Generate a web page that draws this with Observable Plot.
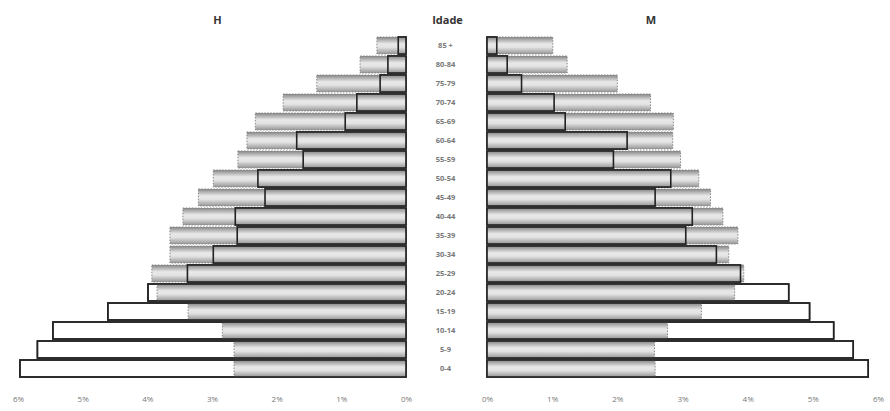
<!DOCTYPE html>
<html>
<head>
<meta charset="utf-8">
<script src="https://cdn.jsdelivr.net/npm/d3@7"></script>
<script src="https://cdn.jsdelivr.net/npm/@observablehq/plot@0.6"></script>
<style>
  body { margin: 0; background: white; }
  #wrap { display: flex; width: 890px; height: 411px; }
  svg { font-family: "Open Sans", "DejaVu Sans", sans-serif; }
</style>
</head>
<body>
<div id="wrap"></div>
<script>
// Age groups, bottom (0-4) to top (85 +)
const ages = ["0-4","5-9","10-14","15-19","20-24","25-29","30-34","35-39","40-44","45-49","50-54","55-59","60-64","65-69","70-74","75-79","80-84","85 +"];
// Outlined bars (white where not overlapped)
const menA   = [5.97,5.70,5.46,4.61,3.99,3.38,2.98,2.61,2.64,2.18,2.29,1.59,1.69,0.94,0.76,0.40,0.28,0.12];
const womenA = [5.85,5.62,5.32,4.95,4.63,3.89,3.52,3.05,3.15,2.58,2.82,1.94,2.15,1.20,1.03,0.53,0.31,0.15];
// Grey dotted bars
const menB   = [2.66,2.66,2.84,3.37,3.85,3.93,3.65,3.65,3.45,3.21,2.98,2.60,2.46,2.33,1.90,1.38,0.71,0.45];
const womenB = [2.58,2.57,2.77,3.29,3.80,3.94,3.71,3.85,3.62,3.43,3.25,2.97,2.85,2.86,2.51,2.00,1.23,1.01];
const ticks = [0,1,2,3,4,5,6];
const titles = {men: "H", women: "M", age: "Idade"};

const agesTopDown = ages.slice().reverse();
const rows = ages.map((age, i) => ({age, menA: menA[i], menB: menB[i], womenA: womenA[i], womenB: womenB[i]}));

function gradientDefs(id) {
  return () => {
    const ns = "http://www.w3.org/2000/svg";
    const defs = document.createElementNS(ns, "defs");
    const g = document.createElementNS(ns, "linearGradient");
    g.setAttribute("id", id);
    g.setAttribute("x1", "0"); g.setAttribute("y1", "0");
    g.setAttribute("x2", "0"); g.setAttribute("y2", "1");
    [["0", "#858585"], ["0.4", "#e8e8e8"], ["0.6", "#e4e4e4"], ["1", "#959595"]].forEach(([o, c]) => {
      const s = document.createElementNS(ns, "stop");
      s.setAttribute("offset", o); s.setAttribute("stop-color", c);
      g.appendChild(s);
    });
    defs.appendChild(g);
    return defs;
  };
}

function pyramidSide(keyA, keyB, opts) {
  const gid = "grad-" + keyA;
  return Plot.plot({
    width: opts.width,
    height: 411,
    marginLeft: opts.marginLeft,
    marginRight: opts.marginRight,
    marginTop: 30,
    marginBottom: 27,
    style: {fontFamily: "'Open Sans', 'DejaVu Sans', sans-serif", background: "white"},
    x: {domain: [0, 6], reverse: opts.reverse, axis: null},
    y: {domain: agesTopDown, padding: 0.08, axis: null},
    marks: [
      gradientDefs(gid),
      Plot.barX(rows, {y: "age", x: keyA, fill: "white", stroke: "#222", strokeWidth: 1.5}),
      Plot.barX(rows, {y: "age", x: keyB, fill: `url(#${gid})`, stroke: "#888", strokeWidth: 1, strokeDasharray: "1.5,1.5"}),
      Plot.barX(rows, {y: "age", x: keyA, fill: "none", stroke: "#222", strokeWidth: 1.6}),
      Plot.axisX({anchor: "bottom", ticks, tickSize: 0, tickPadding: 12, tickFormat: d => d + "%", fontSize: 8, fill: "#777"}),
      ...opts.extra
    ]
  });
}

const left = pyramidSide("menA", "menB", {
  width: 426, marginLeft: 18, marginRight: 20, reverse: true,
  extra: [
    Plot.text([titles.men], {frameAnchor: "top", dy: -14, dx: 5, fontSize: 11, fontWeight: "bold", fill: "#333"})
  ]
});
const right = pyramidSide("womenA", "womenB", {
  width: 464, marginLeft: 61, marginRight: 12, reverse: false,
  extra: [
    Plot.text(ages, {y: d => d, text: d => d, frameAnchor: "left", dx: -42, textAnchor: "middle", fontSize: 7.5, fontWeight: "bold", fill: "#777"}),
    Plot.text([titles.age], {frameAnchor: "top-left", dx: -40, dy: -14, textAnchor: "middle", fontSize: 11, fontWeight: "bold", fill: "#333"}),
    Plot.text([titles.women], {frameAnchor: "top", dx: -32, dy: -14, fontSize: 11, fontWeight: "bold", fill: "#333"})
  ]
});
document.getElementById("wrap").append(left, right);
</script>
</body>
</html>
